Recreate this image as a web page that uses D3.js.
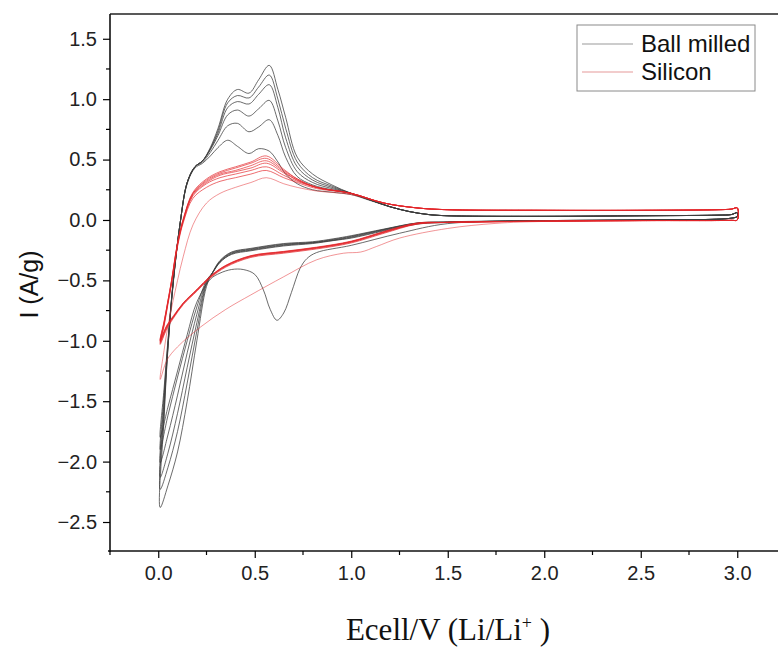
<!DOCTYPE html>
<html><head><meta charset="utf-8">
<script src="https://cdn.jsdelivr.net/npm/d3@7"></script>
<style>body{margin:0;background:#fff} svg{display:block}</style>
</head><body><svg id="c" width="778" height="650"></svg>
<script>
// ---------- data ----------
const xTicks = [0, 0.5, 1, 1.5, 2, 2.5, 3];
const yTicks = [1.5, 1, 0.5, 0, -0.5, -1, -1.5, -2, -2.5];
const legendLabels = ["Ball milled", "Silicon"];

// Ball milled: anodic sweeps (0.01 V -> 3.0 V)
const bmAnodicV = [0.01,0.03,0.05,0.078,0.114,0.15,0.19,0.23,0.27,0.31,0.36,0.41,0.47,0.52,0.575,0.62,0.66,0.72,0.8,0.9,1.0,1.1,1.2,1.3,1.4,1.5,2.0,2.5,2.9,2.97,3.0];
const bmAnodic1 = [-1.80,-1.40,-1.00,-0.50,-0.02,0.30,0.43,0.47,0.53,0.60,0.66,0.61,0.55,0.59,0.57,0.48,0.38,0.30,0.25,0.23,0.21,0.16,0.11,0.07,0.045,0.035,0.03,0.035,0.04,0.045,0.06];
const bmAnodic2 = [-1.90,-1.45,-1.02,-0.50,-0.02,0.31,0.44,0.48,0.56,0.66,0.78,0.80,0.73,0.77,0.83,0.70,0.52,0.36,0.29,0.25,0.22,0.165,0.11,0.07,0.045,0.035,0.03,0.035,0.04,0.045,0.06];
const bmAnodic3 = [-2.01,-1.50,-1.04,-0.50,-0.02,0.31,0.44,0.49,0.58,0.70,0.87,0.91,0.86,0.92,0.99,0.82,0.60,0.40,0.31,0.26,0.22,0.165,0.11,0.07,0.045,0.035,0.03,0.035,0.04,0.045,0.06];
const bmAnodic4 = [-2.13,-1.55,-1.05,-0.51,-0.02,0.31,0.44,0.49,0.59,0.72,0.93,0.98,0.96,1.04,1.12,0.93,0.68,0.44,0.33,0.27,0.22,0.165,0.11,0.07,0.045,0.035,0.03,0.035,0.04,0.045,0.06];
const bmAnodic5 = [-2.23,-1.60,-1.06,-0.51,-0.02,0.31,0.44,0.49,0.59,0.74,0.97,1.03,1.01,1.10,1.20,1.00,0.76,0.48,0.35,0.28,0.22,0.165,0.11,0.07,0.045,0.035,0.03,0.035,0.04,0.045,0.06];
const bmAnodic6 = [-2.38,-1.65,-1.07,-0.52,-0.02,0.31,0.44,0.49,0.60,0.76,1.00,1.08,1.05,1.16,1.28,1.08,0.85,0.52,0.38,0.29,0.22,0.165,0.11,0.07,0.045,0.035,0.03,0.035,0.04,0.045,0.06];

// Ball milled: cathodic sweeps (3.0 V -> 0.01 V)
const bmCathodicV1 = [3.0,2.97,2.5,2.0,1.5,1.25,1.0,0.82,0.77,0.735,0.69,0.65,0.615,0.58,0.545,0.5,0.44,0.38,0.32,0.27,0.2,0.15,0.1,0.05,0.01];
const bmCathodic1 = [0.03,0.015,0.0,-0.01,-0.03,-0.11,-0.21,-0.27,-0.32,-0.40,-0.60,-0.77,-0.83,-0.74,-0.58,-0.45,-0.41,-0.41,-0.44,-0.49,-0.68,-0.95,-1.25,-1.55,-1.80];
const bmCathodicV = [3.0,2.97,2.5,2.0,1.5,1.34,1.17,1.0,0.91,0.8,0.65,0.48,0.38,0.32,0.28,0.25,0.2,0.15,0.1,0.05,0.01];
const bmCathodic2 = [0.03,0.015,0.0,-0.005,-0.02,-0.035,-0.09,-0.15,-0.17,-0.195,-0.215,-0.255,-0.285,-0.35,-0.44,-0.50,-0.72,-1.00,-1.30,-1.62,-1.90];
const bmCathodic3 = [0.03,0.015,0.0,-0.005,-0.02,-0.03,-0.085,-0.145,-0.168,-0.19,-0.21,-0.25,-0.28,-0.35,-0.44,-0.51,-0.78,-1.10,-1.45,-1.78,-2.01];
const bmCathodic4 = [0.03,0.015,0.0,-0.005,-0.018,-0.028,-0.08,-0.14,-0.165,-0.188,-0.205,-0.245,-0.275,-0.345,-0.44,-0.52,-0.85,-1.22,-1.60,-1.93,-2.13];
const bmCathodic5 = [0.03,0.015,0.0,-0.005,-0.018,-0.026,-0.078,-0.135,-0.16,-0.185,-0.20,-0.24,-0.27,-0.34,-0.44,-0.53,-0.92,-1.35,-1.75,-2.05,-2.23];
const bmCathodic6 = [0.03,0.015,0.0,-0.005,-0.015,-0.025,-0.075,-0.13,-0.155,-0.18,-0.195,-0.235,-0.265,-0.335,-0.44,-0.55,-1.00,-1.50,-1.92,-2.20,-2.38];

// Silicon: anodic sweeps
const siAnodicV = [0.01,0.03,0.05,0.07,0.1,0.13,0.18,0.25,0.32,0.4,0.48,0.56,0.65,0.72,0.82,1.0,1.17,1.34,1.5,2.0,2.5,2.9,2.97,3.0];
const siAnodic1 = [-1.32,-1.08,-0.88,-0.72,-0.50,-0.30,-0.04,0.14,0.22,0.27,0.31,0.35,0.30,0.27,0.24,0.21,0.14,0.10,0.085,0.08,0.08,0.085,0.09,0.10];
const siAnodic2 = [-1.03,-0.88,-0.70,-0.52,-0.22,-0.02,0.18,0.27,0.32,0.35,0.38,0.41,0.35,0.31,0.26,0.22,0.14,0.10,0.085,0.08,0.08,0.085,0.09,0.10];
const siAnodic3 = [-1.02,-0.87,-0.69,-0.51,-0.21,-0.01,0.20,0.30,0.35,0.38,0.41,0.44,0.37,0.32,0.27,0.22,0.14,0.10,0.085,0.08,0.08,0.085,0.09,0.10];
const siAnodic4 = [-1.01,-0.86,-0.68,-0.50,-0.20,0.00,0.21,0.31,0.37,0.40,0.43,0.47,0.39,0.33,0.27,0.22,0.14,0.10,0.085,0.08,0.08,0.085,0.09,0.10];
const siAnodic5 = [-1.00,-0.85,-0.68,-0.50,-0.20,0.00,0.22,0.32,0.38,0.41,0.45,0.49,0.40,0.33,0.27,0.22,0.14,0.10,0.085,0.08,0.08,0.085,0.09,0.10];
const siAnodic6 = [-1.00,-0.85,-0.67,-0.49,-0.19,0.01,0.22,0.33,0.39,0.43,0.47,0.51,0.41,0.34,0.27,0.22,0.14,0.10,0.085,0.08,0.08,0.085,0.09,0.10];
const siAnodic7 = [-0.99,-0.84,-0.67,-0.49,-0.19,0.01,0.23,0.34,0.40,0.44,0.48,0.53,0.42,0.34,0.27,0.22,0.14,0.10,0.085,0.08,0.08,0.085,0.09,0.10];

// Silicon: cathodic sweeps
const siCathodicV1 = [3.0,2.97,2.5,2.0,1.75,1.5,1.25,1.13,1.05,0.96,0.82,0.65,0.48,0.35,0.22,0.1,0.045,0.01];
const siCathodic1 = [0.0,-0.003,-0.005,-0.012,-0.028,-0.07,-0.15,-0.22,-0.265,-0.275,-0.33,-0.47,-0.62,-0.74,-0.885,-1.05,-1.16,-1.32];
const siCathodicV = [3.0,2.97,2.5,2.0,1.5,1.34,1.17,1.0,0.82,0.65,0.48,0.35,0.27,0.2,0.13,0.08,0.045,0.01];
const siCathodic2 = [0.0,-0.003,-0.005,-0.01,-0.02,-0.035,-0.11,-0.19,-0.24,-0.275,-0.31,-0.39,-0.48,-0.59,-0.70,-0.81,-0.90,-1.03];
const siCathodic3 = [0.0,-0.003,-0.005,-0.01,-0.02,-0.033,-0.105,-0.185,-0.235,-0.27,-0.305,-0.385,-0.475,-0.585,-0.695,-0.80,-0.89,-1.02];
const siCathodic4 = [0.0,-0.003,-0.005,-0.01,-0.02,-0.03,-0.10,-0.18,-0.23,-0.265,-0.30,-0.38,-0.47,-0.58,-0.69,-0.80,-0.88,-1.01];
const siCathodic5 = [0.0,-0.003,-0.005,-0.01,-0.02,-0.03,-0.10,-0.18,-0.23,-0.265,-0.30,-0.38,-0.47,-0.58,-0.69,-0.80,-0.88,-1.00];
const siCathodic6 = [0.0,-0.003,-0.005,-0.01,-0.02,-0.028,-0.098,-0.178,-0.228,-0.262,-0.297,-0.377,-0.467,-0.577,-0.687,-0.795,-0.875,-1.00];
const siCathodic7 = [0.0,-0.003,-0.005,-0.01,-0.02,-0.025,-0.095,-0.175,-0.225,-0.26,-0.295,-0.375,-0.465,-0.575,-0.685,-0.79,-0.87,-0.99];

// ---------- build cycles ----------
function loop(cv, ci, av, ai) {
  const pts = cv.map((v, i) => [v, ci[i]]);
  av.forEach((v, i) => {
    const last = pts[pts.length - 1];
    if (!(last[0] === v && last[1] === ai[i])) pts.push([v, ai[i]]);
  });
  return pts;
}
const bmCycles = [
  loop(bmCathodicV1, bmCathodic1, bmAnodicV, bmAnodic1),
  loop(bmCathodicV, bmCathodic2, bmAnodicV, bmAnodic2),
  loop(bmCathodicV, bmCathodic3, bmAnodicV, bmAnodic3),
  loop(bmCathodicV, bmCathodic4, bmAnodicV, bmAnodic4),
  loop(bmCathodicV, bmCathodic5, bmAnodicV, bmAnodic5),
  loop(bmCathodicV, bmCathodic6, bmAnodicV, bmAnodic6)
];
const siCycles = [
  loop(siCathodicV1, siCathodic1, siAnodicV, siAnodic1),
  loop(siCathodicV, siCathodic2, siAnodicV, siAnodic2),
  loop(siCathodicV, siCathodic3, siAnodicV, siAnodic3),
  loop(siCathodicV, siCathodic4, siAnodicV, siAnodic4),
  loop(siCathodicV, siCathodic5, siAnodicV, siAnodic5),
  loop(siCathodicV, siCathodic6, siAnodicV, siAnodic6),
  loop(siCathodicV, siCathodic7, siAnodicV, siAnodic7)
];

// ---------- drawing ----------
const svg = d3.select("#c");
const L = 110, T = 14, B = 551;
const x = d3.scaleLinear().domain([-0.25, 3.25]).range([L, L + 3.5 * 193]);
const y = d3.scaleLinear().domain([-2.74, 1.705]).range([B, T]);

const line = d3.line().x(d => x(d[0])).y(d => y(d[1])).curve(d3.curveCatmullRomClosed.alpha(0.5));

svg.append("defs").append("clipPath").attr("id", "clip")
  .append("rect").attr("x", L).attr("y", T).attr("width", 778 - L).attr("height", B - T);

const plot = svg.append("g").attr("clip-path", "url(#clip)");
plot.selectAll("path.bm").data(bmCycles).enter().append("path")
  .attr("class", "bm").attr("d", line).attr("fill", "none")
  .attr("stroke", "#3c3c3c").attr("stroke-width", 0.9).attr("stroke-opacity", 0.85);
plot.selectAll("path.si").data(siCycles).enter().append("path")
  .attr("class", "si").attr("d", line).attr("fill", "none")
  .attr("stroke", "#e3262a").attr("stroke-width", 0.9)
  .attr("stroke-opacity", (d, i) => i === 0 ? 0.55 : 0.75);

// frame top line
svg.append("line").attr("x1", L).attr("x2", 778).attr("y1", T).attr("y2", T)
  .attr("stroke", "#222").attr("stroke-width", 1.5);

const fmt = d3.format(".1f");
const minorX = d3.range(-0.25, 3.3, 0.5);
const minorY = d3.range(-2.75, 1.8, 0.5).filter(v => v >= -2.74 && v <= 1.705);

// x axis
const gx = svg.append("g").attr("transform", `translate(0,${B})`)
  .call(d3.axisBottom(x).tickValues(xTicks).tickFormat(fmt).tickSize(7).tickPadding(8));
gx.append("g").selectAll("line").data(minorX).enter().append("line")
  .attr("x1", d => x(d)).attr("x2", d => x(d)).attr("y1", 0).attr("y2", 4)
  .attr("stroke", "#000").attr("stroke-width", 1.2);
// y axis
const gy = svg.append("g").attr("transform", `translate(${L},0)`)
  .call(d3.axisLeft(y).tickValues(yTicks).tickFormat(fmt).tickSize(7).tickPadding(6));
gy.append("g").selectAll("line").data(minorY).enter().append("line")
  .attr("y1", d => y(d)).attr("y2", d => y(d)).attr("x1", 0).attr("x2", -4)
  .attr("stroke", "#000").attr("stroke-width", 1.2);

[gx, gy].forEach(g => {
  g.select(".domain").attr("stroke", "#111").attr("stroke-width", 1.6);
  g.selectAll(".tick line").attr("stroke", "#000").attr("stroke-width", 1.2);
  g.selectAll(".tick text").attr("font-family", "'Liberation Sans', Arial, sans-serif")
    .attr("font-size", 20).attr("fill", "#222");
});
gx.select(".domain").attr("d", `M${L - 2},0H778`);
gy.select(".domain").attr("d", `M0,${T}V${B + 1}`);

// axis titles
svg.append("text").attr("transform", `translate(38,${(T + B) / 2 + 2}) rotate(-90)`)
  .attr("text-anchor", "middle").attr("font-family", "'Liberation Sans', Arial, sans-serif")
  .attr("font-size", 25).attr("fill", "#111").text("I (A/g)");

const xt = svg.append("text").attr("x", 448).attr("y", 640).attr("text-anchor", "middle")
  .attr("font-family", "'Liberation Serif', 'Times New Roman', serif")
  .attr("font-size", 31).attr("fill", "#111");
xt.append("tspan").text("Ecell/V (Li/Li");
xt.append("tspan").attr("font-size", 18).attr("dy", -11).text("+");
xt.append("tspan").attr("dy", 11).text(" )");

// legend
const lg = svg.append("g");
lg.append("rect").attr("x", 577).attr("y", 25).attr("width", 178).attr("height", 66)
  .attr("fill", "#fff").attr("stroke", "#8a8a8a").attr("stroke-width", 1);
const legendColors = ["#9a9a9a", "#e59a9a"];
legendLabels.forEach((t, i) => {
  const yy = 44 + i * 28;
  lg.append("line").attr("x1", 582).attr("x2", 633).attr("y1", yy).attr("y2", yy)
    .attr("stroke", legendColors[i]).attr("stroke-width", 1.2);
  lg.append("text").attr("x", 641).attr("y", yy + 8)
    .attr("font-family", "'Liberation Sans', Arial, sans-serif").attr("font-size", 24)
    .attr("fill", "#111").text(t);
});
</script></body></html>
